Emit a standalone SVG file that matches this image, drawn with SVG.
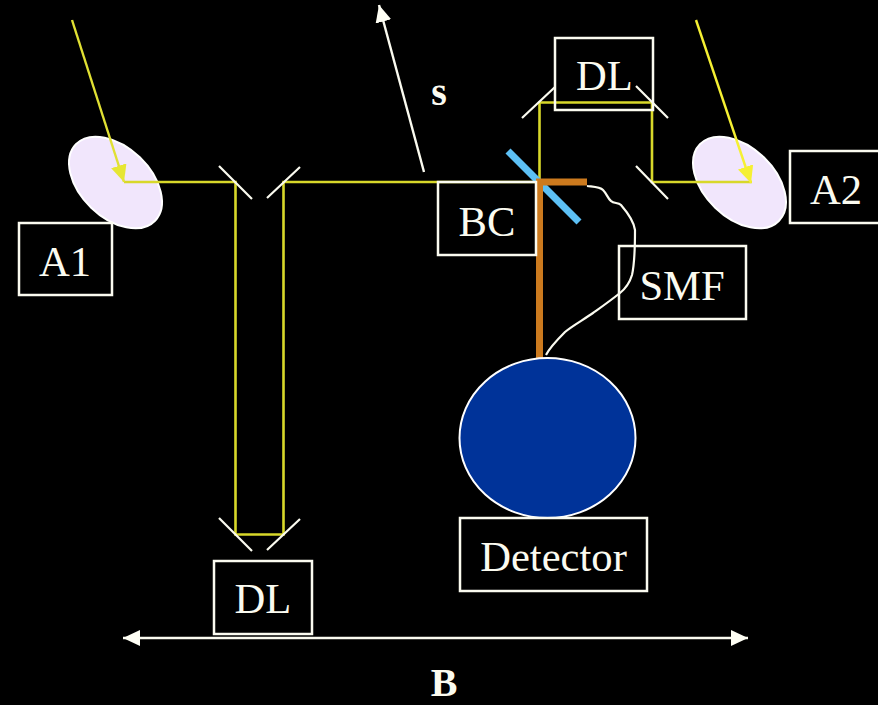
<svg xmlns="http://www.w3.org/2000/svg" width="878" height="705" viewBox="0 0 878 705">
<defs>
<marker id="ya" markerUnits="userSpaceOnUse" markerWidth="20" markerHeight="20" refX="17" refY="8" orient="auto"><path d="M0 0L17 8L0 16Z" fill="#e6e633"/></marker>
<marker id="yb" markerUnits="userSpaceOnUse" markerWidth="20" markerHeight="20" refX="17" refY="8" orient="auto"><path d="M0 0L17 8L0 16Z" fill="#f5f033"/></marker>
<marker id="w" markerUnits="userSpaceOnUse" markerWidth="20" markerHeight="20" refX="17" refY="8" orient="auto-start-reverse"><path d="M0 0L17 8L0 16Z" fill="#fffff5"/></marker>
</defs>
<style>
.box{fill:none;stroke:#fbfbf0;stroke-width:2.5}
.t{font-family:"Liberation Serif",serif;font-size:42.6px;fill:#fbfbf0;text-anchor:middle}
.b{font-family:"Liberation Serif",serif;font-size:40px;font-weight:bold;fill:#fbfbf0;text-anchor:middle}
.w{fill:none;stroke:#fbfbf0;stroke-width:2.2}
.y{fill:none;stroke:#d8d82a;stroke-width:2.6}
.len{fill:#f1e6fc;stroke:#fff;stroke-width:2}
</style>
<rect width="878" height="705" fill="#000"/>
<g id="A1-lens"><ellipse cx="115.5" cy="182.5" rx="55" ry="35" transform="rotate(44 115.5 182.5)" class="len"/></g>
<g id="A2-lens"><ellipse cx="739.5" cy="182.5" rx="55" ry="35" transform="rotate(44 739.5 182.5)" class="len"/></g>
<g id="connectors">
<path class="y" d="M124 182H235.500V534.500H283.500V182H424"/>
<path class="y" d="M424 182H539.500V102.500H652V182H752"/>
<path d="M72 20L124 182" stroke="#e0e033" stroke-width="2.4" fill="none" marker-end="url(#ya)"/>
<path d="M696 20L751 183" stroke="#f5f033" stroke-width="2.4" fill="none" marker-end="url(#yb)"/>
<path d="M424 172L379 5" stroke="#fbfbf0" stroke-width="2.4" fill="none" marker-end="url(#w)"/>
<path d="M123 638H748" stroke="#fbfbf0" stroke-width="2.4" fill="none" marker-start="url(#w)" marker-end="url(#w)"/>
<path class="w" d="M219 166L252 199M300 167L267 198M219 518L252 551M300 519L267 550M522 118L555 87M636 86L668 118M636 166L668 199"/>
<path d="M508 151L579 222" stroke="#5cc0f5" stroke-width="7" fill="none"/>
<path d="M587 182H539.500V358" stroke="#cc7a1e" stroke-width="7" fill="none"/>
<path class="w" d="M587 186C595 187 600 187 603 190C607 194 608 199 611 201C614 204 618 202 621 205C627 212 634 222 635 230C635 245 635 262 632 275C629 285 625 289 620 293C610 301 600 308 593 313C583 320 572 326 565 332C557 340 550 347 546 355"/>
</g>
<g id="A1"><rect class="box" x="19" y="223" width="93" height="72"/><text class="t" x="65" y="276">A1</text></g>
<g id="A2"><rect class="box" x="790" y="151" width="93" height="72"/><text class="t" x="836" y="204">A2</text></g>
<g id="DL-top"><rect class="box" x="555" y="38" width="98" height="72"/><text class="t" x="604.500" y="90">DL</text></g>
<g id="BC"><rect class="box" x="438" y="182" width="98" height="73"/><text class="t" x="487" y="236">BC</text></g>
<g id="SMF"><rect class="box" x="619" y="246" width="127" height="73"/><text class="t" x="682" y="300">SMF</text></g>
<g id="detector-body"><ellipse cx="547.500" cy="438" rx="88" ry="80" fill="#003399" stroke="#fff" stroke-width="2"/></g>
<g id="Detector"><rect class="box" x="460" y="518" width="187" height="73"/><text class="t" x="553.500" y="571">Detector</text></g>
<g id="DL-bottom"><rect class="box" x="214" y="561" width="98" height="73"/><text class="t" x="263" y="613">DL</text></g>
<text class="b" x="439" y="105">s</text>
<text class="b" x="444" y="696">B</text>
</svg>
